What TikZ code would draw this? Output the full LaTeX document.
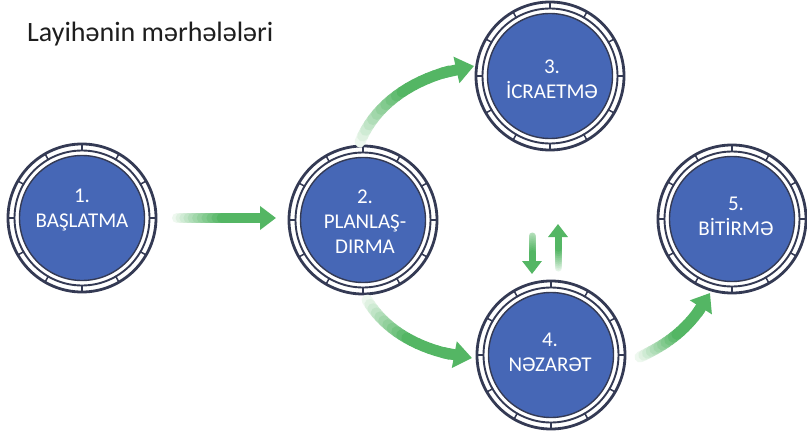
\documentclass[tikz,border=0pt]{standalone}
\usepackage{fontspec}
\setmainfont{Carlito}
\usetikzlibrary{arrows.meta,calc}
\definecolor{ringc}{RGB}{52,58,84}
\definecolor{discblue}{RGB}{70,103,182}
\definecolor{arrowgreen}{RGB}{84,182,100}
\definecolor{titlec}{RGB}{30,30,30}
\tikzset{
  disc/.style={circle, fill=discblue, draw=ringc, line width=1.4pt, minimum size=125pt, inner sep=0pt},
  lbl/.style={text=white, align=center, font=\fontsize{21}{25}\selectfont, inner sep=0pt},
  ringline/.style={ringc, line width=#1},
}
\newcommand\ringat[1]{%
  \fill[white] (#1) circle[radius=75.5];
  \draw[ringline=2.8pt] (#1) circle[radius=74];
  \draw[ringline=1.9pt] (#1) circle[radius=67.5];
  \foreach \a in {0,30,...,330}{\draw[ringline=1.5pt, shift={(#1)}] (\a:67.5) -- (\a:74);}
}
% #1 P0  #2 P1  #3 P2  #4 tip  #5 shaft width  #6 head width  #7 head length  #8 start percent
\newcommand\gradarrow[8]{%
  \foreach \k in {0,...,16}{%
    \pgfmathsetmacro\ta{\k/20}%
    \pgfmathsetmacro\tb{(\k+1)/20}%
    \pgfmathtruncatemacro\cc{min(100,#8+(100-#8)*2.0*\k/20)}%
    \path #1 .. controls #2 and #3 .. #4 coordinate[pos=\ta] (ga) coordinate[pos=\tb] (gb);
    \draw[line width=#5, line cap=round, arrowgreen!\cc!white] (ga) -- (gb);
  }
  \path #1 .. controls #2 and #3 .. #4 coordinate[pos=0.8] (gh);
  \draw[line width=#5, arrowgreen, -{Triangle[width=#6,length=#7]}] (gh) -- #4;
}
\begin{document}
\begin{tikzpicture}[x=1pt,y=-1pt]
\useasboundingbox[fill=white] (0,0) rectangle (807,436);

\node[anchor=base west, text=titlec, font=\fontsize{28}{32}\selectfont, inner sep=0pt] (title) at (27,42) {Layihənin mərhələləri};

% circle centres
\coordinate (c1) at (82,218);
\coordinate (c2) at (363,220);
\coordinate (c3) at (550,76);
\coordinate (c4) at (551,355);
\coordinate (c5) at (732,219);

\foreach \c in {c1,c2,c3,c4,c5}{\ringat{\c}}

\node[disc] (s1) at (c1) {};
\node[disc] (s2) at (c2) {};
\node[disc] (s3) at (c3) {};
\node[disc] (s4) at (c4) {};
\node[disc] (s5) at (c5) {};

\node[lbl] (t1) at (82,210) {1.\\BAŞLATMA};
\node[lbl] (t2) at (365,222) {2.\\PLANLAŞ-\\DIRMA};
\node[lbl] (t3) at (552,79) {3.\\İCRAETMƏ};
\node[lbl] (t4) at (550,352) {4.\\NƏZARƏT};
\node[lbl] (t5) at (736,216) {5.\\BİTİRMƏ};

% arrows
\gradarrow{(177,218)}{(200,218)}{(240,218)}{(276,218)}{10pt}{23pt}{16pt}{10}
\gradarrow{(360,142)}{(376,102)}{(418,74)}{(474,66)}{11pt}{26pt}{18pt}{10}
\gradarrow{(367,300)}{(385,330)}{(420,352)}{(472,358)}{11pt}{26pt}{18pt}{10}
\gradarrow{(640,357)}{(665,345)}{(690,330)}{(710,293)}{11pt}{25pt}{17pt}{10}
\gradarrow{(532,236)}{(532,246)}{(532,260)}{(532,274)}{7pt}{19pt}{13pt}{45}
\gradarrow{(558,268)}{(558,258)}{(558,240)}{(558,224)}{7pt}{19pt}{13pt}{15}
\end{tikzpicture}
\end{document}
